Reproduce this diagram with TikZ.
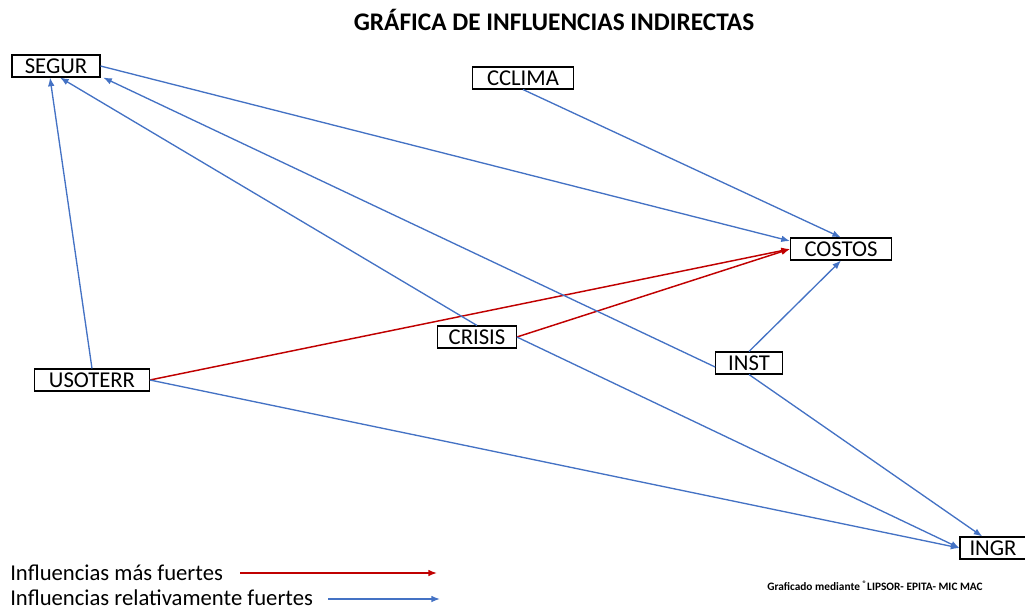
\documentclass[tikz,border=0pt]{standalone}
\usepackage{fontspec}
\setmainfont{Carlito}
\usetikzlibrary{arrows.meta}
\definecolor{azul}{RGB}{68,114,196}
\definecolor{rojo}{RGB}{192,0,0}

\begin{document}
\begin{tikzpicture}[x=0.75pt,y=-0.75pt,
	var/.style={draw, line width=0.8pt, fill=white, inner sep=0pt, minimum height=16.5pt, font=\fontsize{17}{19}\selectfont},
	fuerte/.style={draw=rojo, line width=1.1pt, -{Latex[length=6.5pt,width=5pt]}},
	relativa/.style={draw=azul, line width=1pt, -{Latex[length=6.5pt,width=5pt]}},
	leyenda/.style={anchor=west, inner sep=0pt, font=\fontsize{17}{19}\selectfont}]
	\useasboundingbox (0,0) rectangle (1025,611);

	\node[font=\bfseries\fontsize{19}{22}\selectfont] (titulo) at (554,20) {GRÁFICA DE INFLUENCIAS INDIRECTAS};

	\node[var, minimum width=66pt] (segur) at (56,66) {SEGUR};
	\node[var, minimum width=75.75pt] (cclima) at (523,78) {CCLIMA};
	\node[var, minimum width=75.75pt] (costos) at (841,249) {COSTOS};
	\node[var, minimum width=59pt] (crisis) at (477,337) {CRISIS};
	\node[var, minimum width=50pt] (inst) at (749,363) {INST};
	\node[var, minimum width=86pt] (usoterr) at (92,380) {USOTERR};
	\node[var, minimum width=49.5pt] (ingr) at (993,548) {INGR};

	% influencias mas fuertes
	\draw[fuerte] (usoterr.east) -- (costos.west);
	\draw[fuerte] (crisis.east) -- (costos.west);

	% influencias relativamente fuertes
	\draw[relativa] (segur.east) -- ([yshift=6pt]costos.west);
	\draw[relativa] (cclima.south) -- (costos.north);
	\draw[relativa] (inst.north) -- (costos.south);
	\draw[relativa] (usoterr.north) -- ([xshift=-4.5pt]segur.south);
	\draw[relativa] (crisis.north) -- ([xshift=3pt]segur.south);
	\draw[relativa] ([yshift=-3pt]inst.west) -- ([xshift=2pt]segur.south east);
	\draw[relativa] (crisis.east) -- (ingr.west);
	\draw[relativa] (usoterr.east) -- (ingr.west);
	\draw[relativa] (inst.south) -- ([xshift=-8pt]ingr.north);

	\node[leyenda] (lfuerte) at (10,573) {Influencias más fuertes};
	\node[leyenda] (lrelativa) at (10,598) {Influencias relativamente fuertes};
	\coordinate (r1) at (240,573);
	\coordinate (r2) at (437,573);
	\coordinate (a1) at (328,599);
	\coordinate (a2) at (440,599);
	\draw[fuerte] (r1) -- (r2);
	\draw[relativa] (a1) -- (a2);

	\node[font=\bfseries\fontsize{8.5}{10}\selectfont] (fuente) at (875,586) {Graficado mediante \textsuperscript{\textregistered}LIPSOR- EPITA- MIC MAC};
\end{tikzpicture}
\end{document}
